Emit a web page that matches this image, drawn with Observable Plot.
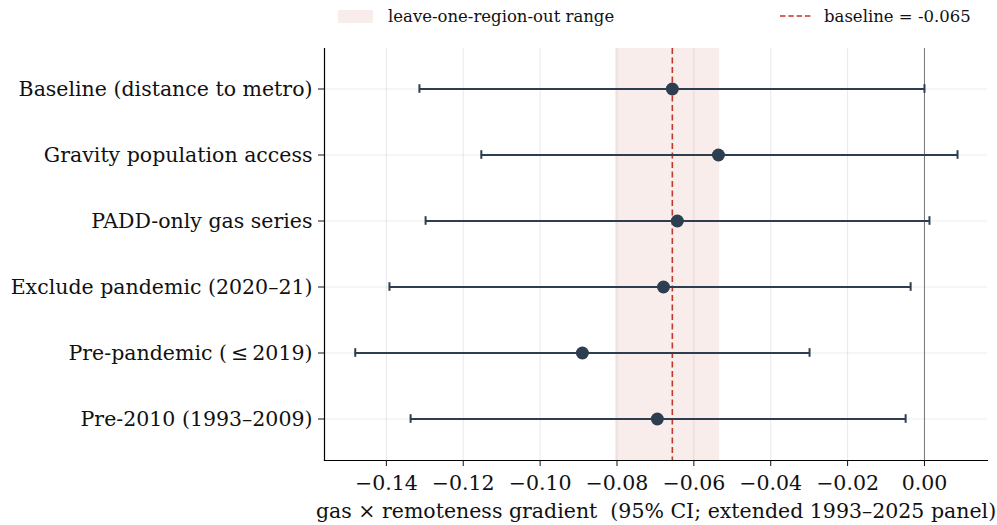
<!DOCTYPE html>
<html>
<head>
<meta charset="utf-8">
<script src="https://cdn.jsdelivr.net/npm/d3@7"></script>
<script src="https://cdn.jsdelivr.net/npm/@observablehq/plot@0.6"></script>
<style>
  body { margin: 0; background: #fff; font-family: "DejaVu Serif", serif; }
  #legend { position: relative; width: 997px; height: 40px; font-size: 16.5px; color: #111; }
  .item { position: absolute; top: 6px; display: flex; align-items: center; height: 20px; }
  .swatch { width: 35px; height: 13px; background: rgba(192,57,43,0.09); margin-right: 15px; }
  .dash { margin-right: 12px; }
  svg text { fill: #111; }
</style>
</head>
<body>
<div id="legend">
  <div class="item" style="left:338px"><div class="swatch"></div><span>leave-one-region-out range</span></div>
  <div class="item" style="left:780px"><svg class="dash" width="32" height="4"><line x1="0" y1="2" x2="32" y2="2" stroke="#c0392b" stroke-width="1.6" stroke-dasharray="5.5,2.8"/></svg><span>baseline = -0.065</span></div>
</div>
<div id="chart"></div>
<script>
const specs = [
  "Baseline (distance to metro)",
  "Gravity population access",
  "PADD-only gas series",
  "Exclude pandemic (2020\u201321)",
  "Pre-pandemic (\u2009\u2264\u20092019)",
  "Pre-2010 (1993\u20132009)"
];
const estimates = [-0.0656, -0.0536, -0.0643, -0.0679, -0.0890, -0.0695];
const ciLow  = [-0.1314, -0.1153, -0.1298, -0.1392, -0.1481, -0.1337];
const ciHigh = [0.0000, 0.0086, 0.0013, -0.0036, -0.0299, -0.0049];
const looRange = [-0.0804, -0.0533];
const baseline = -0.0656;
const xTicks = [-0.14, -0.12, -0.10, -0.08, -0.06, -0.04, -0.02, 0.00];

const rows = specs.map((s, i) => ({spec: s, est: estimates[i], lo: ciLow[i], hi: ciHigh[i]}));
const navy = "#2c3e50";

const chart = Plot.plot({
  width: 997,
  height: 485,
  marginLeft: 324,
  marginRight: 10,
  marginTop: 8,
  marginBottom: 65,
  style: {fontFamily: "DejaVu Serif, serif", fontSize: "20.5px", color: "#111", background: "#fff"},
  x: {domain: [-0.1561, 0.0164]},
  y: {type: "band", domain: specs, paddingInner: 0.8, paddingOuter: 0.5},
  marks: [
    Plot.gridX(xTicks, {stroke: "#000", strokeOpacity: 0.09, strokeWidth: 1}),
    Plot.gridY(specs, {stroke: "#000", strokeOpacity: 0.07, strokeWidth: 1}),
    Plot.rect([looRange], {x1: d => d[0], x2: d => d[1], fill: "#c0392b", fillOpacity: 0.09}),
    Plot.ruleX([0], {stroke: "#777", strokeWidth: 1}),
    Plot.ruleX([baseline], {stroke: "#c0392b", strokeWidth: 1.6, strokeDasharray: "6,3.5"}),
    Plot.ruleY(rows, {y: "spec", x1: "lo", x2: "hi", stroke: navy, strokeWidth: 2}),
    Plot.tickX(rows, {y: "spec", x: "lo", stroke: navy, strokeWidth: 2, insetTop: 2.2, insetBottom: 2.2}),
    Plot.tickX(rows, {y: "spec", x: "hi", stroke: navy, strokeWidth: 2, insetTop: 2.2, insetBottom: 2.2}),
    Plot.dot(rows, {y: "spec", x: "est", r: 6.5, fill: navy, stroke: "none"}),
    Plot.frame({anchor: "left", stroke: "#000", strokeWidth: 1.2}),
    Plot.frame({anchor: "bottom", stroke: "#000", strokeWidth: 1.2}),
    Plot.axisY({tickSize: 6, tickPadding: 6, label: null, fontSize: 20.5}),
    Plot.axisX({ticks: xTicks, tickFormat: d3.format(".2f"), tickSize: 6, tickPadding: 9,
      label: "gas \u00d7 remoteness gradient  (95% CI; extended 1993\u20132025 panel)",
      labelAnchor: "center", labelArrow: "none", labelOffset: 57, fontSize: 20.5})
  ]
});
document.getElementById("chart").appendChild(chart);
</script>
</body>
</html>
